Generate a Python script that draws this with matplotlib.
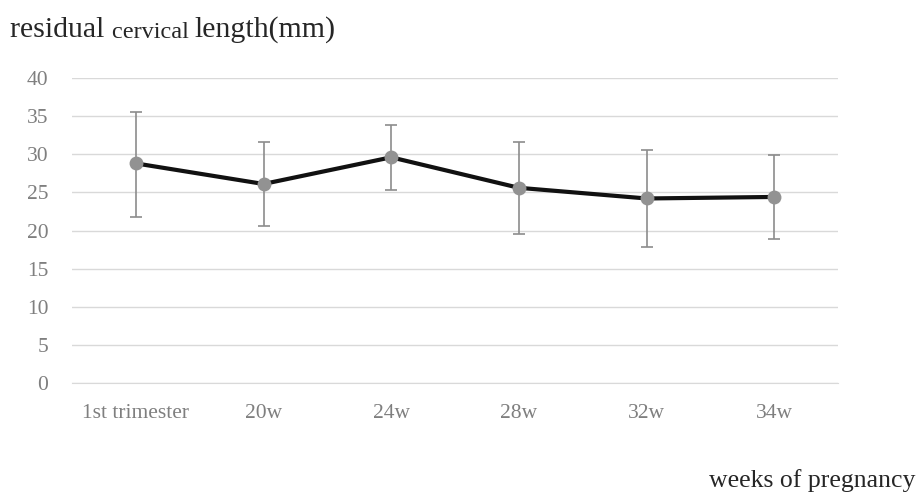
import matplotlib
matplotlib.use("Agg")
import matplotlib.pyplot as plt

categories = ["1st trimester", "20w", "24w", "28w", "32w", "34w"]
means = [28.8, 26.1, 29.6, 25.6, 24.2, 24.4]
upper = [35.6, 31.6, 33.9, 31.6, 30.6, 29.9]
lower = [21.8, 20.6, 25.3, 19.6, 17.8, 18.9]
yticks = [0, 5, 10, 15, 20, 25, 30, 35, 40]

plt.rcParams['font.family'] = ['Liberation Serif', 'DejaVu Serif']

fig = plt.figure(figsize=(9.22, 4.94), dpi=100)
ax = fig.add_axes([72/922, 1-383/494, (838-72)/922, (383-78)/494])

x = list(range(len(categories)))
err_lo = [m - l for m, l in zip(means, lower)]
err_hi = [u - m for m, u in zip(means, upper)]
ax.errorbar(x, means, yerr=[err_lo, err_hi], fmt='none', ecolor='#8c8c8c',
            elinewidth=1.2, capsize=4, capthick=1.2, zorder=2)
ax.plot(x, means, color='#111111', lw=3, zorder=3)
ax.plot(x, means, 'o', color='#929292', ms=10, zorder=4, markeredgewidth=0)

ax.set_xlim(-0.5, len(categories) - 0.5)
ax.set_ylim(0, 40)
ax.set_yticks(yticks)
ax.set_yticklabels([str(t) for t in yticks])
ax.set_xticks(x)
ax.set_xticklabels(categories)
ax.grid(axis='y', color='#d9d9d9', lw=1)
ax.set_axisbelow(True)
for s in ['top', 'right', 'left']:
    ax.spines[s].set_visible(False)
ax.spines['bottom'].set_color('#d9d9d9')
ax.tick_params(axis='both', length=0, labelsize=15.5, colors='#7f7f7f')
ax.tick_params(axis='y', pad=17)
ax.tick_params(axis='x', pad=15)

t1 = fig.text(10/922, 1-37/494, "residual ", fontsize=21.5, color='#262626', va='baseline')
t2 = ax.annotate("cervical ", xy=(1, 0), xycoords=t1, fontsize=17.5, color='#262626', va='bottom')
t3 = ax.annotate("length(mm)", xy=(1, 0), xycoords=t2, fontsize=21.5, color='#262626', va='bottom')

fig.text(915/922, 1-487/494, "weeks of pregnancy", fontsize=18.5, color='#262626', ha='right', va='baseline')

fig.savefig("out.png", dpi=100)
